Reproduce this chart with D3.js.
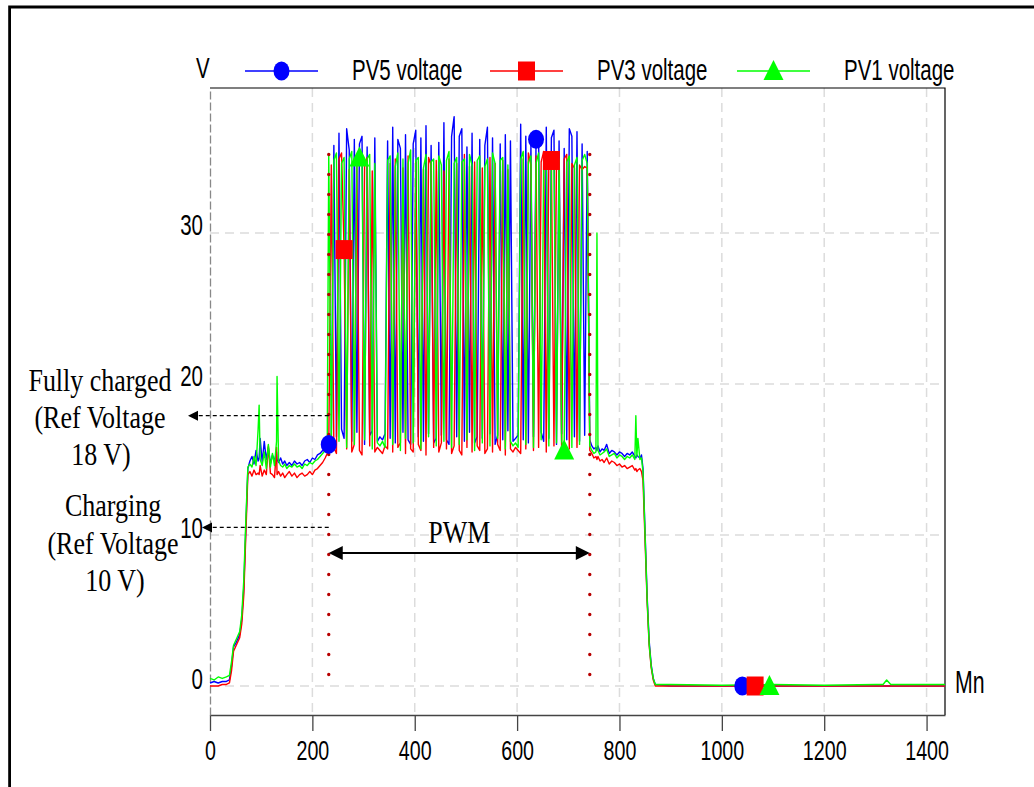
<!DOCTYPE html>
<html><head><meta charset="utf-8">
<script src="https://cdn.jsdelivr.net/npm/d3@7"></script>
<style>body{margin:0;background:#fff} svg{display:block}</style>
</head><body>
<svg id="chart" width="1034" height="787"></svg>
<script>
// ---------------- DATA ----------------
const xTicks = [0, 200, 400, 600, 800, 1000, 1200, 1400];
const yTicks = [0, 10, 20, 30];
const seriesNames = ["PV5 voltage", "PV3 voltage", "PV1 voltage"];

// sampling grid (minutes)
const preMinutes = [0, 8, 16, 24, 32, 38, 42, 46, 50, 54, 58, 62, 66, 70, 74, 78, 82, 86, 90, 94,
  96, 98, 102, 106, 110, 114, 118, 122, 126, 130, 131, 134, 138, 142, 146, 150, 155, 160, 165, 170,
  175, 180, 185, 190, 195, 200, 205, 210, 215, 220, 225, 229];
const pwmMinutes = d3.range(232, 743, 5);
const postMinutes = [746, 750, 754, 756, 758, 762, 766, 770, 775, 780, 785, 790, 795, 800, 805, 810, 815, 820, 825, 830,
  832, 834, 836, 840, 843, 846, 850, 854, 858, 862, 866, 870, 900, 1000, 1100, 1200, 1300, 1315, 1322, 1330,
  1400, 1436];

// PV5 (blue)
const pv5Pre = [0.2, 0.3, 0.2, 0.3, 0.3, 0.4, 1.3, 2.6, 2.8, 3.1, 3.4, 4.4, 6.5, 10.5, 14.4, 14.9, 15.2, 14.7, 15.6, 14.9,
  15.1, 16.4, 14.8, 16.2, 15.0, 15.8, 14.7, 15.3, 14.9, 15.5, 15.0, 14.8, 15.1, 14.7, 14.9, 14.6, 14.8, 14.6, 14.9, 14.7,
  14.8, 14.6, 14.9, 15.0, 14.8, 15.1, 15.0, 15.3, 15.4, 15.6, 15.8, 16.0];
const pv5Pwm = [16.0, 16.3, 35.8, 16.5, 36.6, 17.0, 16.4, 36.9, 35.5, 16.2,
  36.2, 16.8, 35.9, 36.4, 16.0, 35.7, 16.6, 16.9, 36.3, 16.2,
  16.5, 16.3, 16.7, 36.1, 16.4, 37.0, 16.1, 36.2, 35.6, 16.8,
  36.5, 16.3, 16.0, 35.9, 36.8, 16.5, 36.3, 16.2, 37.1, 16.7,
  35.8, 16.1, 16.4, 36.0, 16.6, 37.3, 16.3, 16.0, 36.4, 37.7,
  16.5, 36.4, 36.9, 16.2, 35.7, 16.8, 36.6, 16.1, 16.5, 36.2,
  16.4, 35.8, 37.0, 16.7, 36.3, 16.0, 16.6, 35.9, 16.3, 36.5,
  16.9, 36.1, 16.2, 16.4, 16.6, 37.2, 16.3, 36.4, 16.1, 35.8,
  16.5, 36.2, 36.6, 16.8, 16.2, 37.0, 16.4, 36.3, 36.8, 16.0,
  36.1, 16.7, 35.6, 16.3, 36.9, 36.4, 16.5, 36.7, 16.2, 35.9,
  16.6, 35.4, 16.3];
const pv5Post = [15.9, 15.7, 15.8, 15.6, 15.9, 15.5, 15.7, 15.6, 16.0, 15.4, 15.6, 15.5, 15.3, 15.5, 15.4, 15.2, 15.4, 15.3, 15.5, 15.2,
  15.1, 15.3, 15.2, 15.1, 15.3, 14.4, 10.2, 6.0, 3.0, 1.4, 0.5, 0.1, 0.0, 0.0, 0.0, 0.0, 0.0, 0.0, 0.0, 0.0,
  0.0, 0.0];

// PV3 (red)
const pv3Pre = [0.0, 0.0, 0.0, 0.1, 0.1, 0.2, 1.0, 2.3, 2.6, 2.9, 3.2, 4.1, 6.0, 10.0, 14.0, 14.2, 13.9, 14.3, 14.0, 14.1,
  14.0, 14.6, 13.9, 14.3, 14.0, 15.9, 14.1, 14.0, 13.8, 15.8, 14.0, 14.2, 13.9, 14.1, 13.8, 14.0, 14.2, 13.9, 14.1, 13.8,
  14.0, 14.1, 13.9, 14.0, 14.2, 14.0, 14.3, 14.4, 14.6, 14.8, 15.1, 15.4];
const pv3Pwm = [15.6, 34.5, 15.8, 15.4, 34.9, 35.3, 28.9, 15.7, 34.2, 15.5,
  16.0, 34.8, 15.6, 15.3, 34.4, 35.0, 15.9, 34.1, 15.5, 15.8,
  15.6, 15.4, 15.9, 15.7, 34.6, 15.5, 34.9, 15.8, 16.1, 34.3,
  15.4, 35.1, 15.7, 15.5, 34.7, 16.0, 15.6, 34.2, 15.3, 35.0,
  34.5, 15.8, 34.8, 15.5, 16.1, 34.1, 15.7, 34.9, 15.4, 15.9,
  34.6, 15.6, 15.3, 35.2, 15.8, 34.4, 15.5, 34.7, 15.9, 15.6,
  34.3, 15.4, 15.7, 35.0, 15.5, 34.6, 16.0, 15.6, 34.8, 15.3,
  34.2, 15.7, 15.5, 15.8, 15.6, 15.4, 34.9, 15.7, 35.3, 34.5,
  15.6, 35.1, 15.8, 34.7, 35.4, 15.5, 34.8, 34.8, 15.9, 35.0,
  34.4, 15.6, 34.9, 35.2, 15.7, 34.6, 34.3, 15.8, 34.5, 34.2,
  34.4, 34.3, 15.6];
const pv3Post = [15.4, 15.1, 15.2, 15.0, 15.2, 14.9, 15.0, 14.8, 15.1, 14.7, 14.9, 14.8, 14.6, 14.7, 14.5, 14.6, 14.4, 14.5, 14.6, 14.3,
  14.4, 14.2, 14.3, 14.4, 14.2, 13.6, 9.6, 5.6, 2.7, 1.2, 0.4, 0.0, 0.0, 0.0, 0.0, 0.0, 0.0, 0.0, 0.0, 0.0,
  0.0, 0.0];

// PV1 (green)
const pv1Pre = [0.5, 0.4, 0.6, 0.5, 0.6, 0.7, 1.6, 2.7, 3.0, 3.3, 3.6, 4.7, 7.0, 11.0, 14.5, 14.7, 14.5, 15.2, 14.6, 17.0,
  18.6, 15.0, 14.6, 15.5, 14.4, 16.0, 14.5, 15.4, 14.6, 16.2, 20.5, 14.9, 14.6, 14.5, 14.7, 14.4, 14.6, 14.5, 14.7, 14.5,
  14.6, 14.4, 14.7, 14.6, 14.8, 14.7, 14.9, 15.0, 15.2, 15.4, 15.6, 15.8];
const pv1Pwm = [35.2, 15.9, 34.8, 35.3, 16.2, 34.6, 35.0, 15.8, 34.9, 35.4,
  16.0, 34.7, 35.0, 34.5, 16.3, 34.9, 35.2, 15.7, 34.6, 16.1,
  15.9, 16.2, 15.8, 34.8, 35.1, 16.0, 34.4, 35.3, 15.6, 34.9,
  16.4, 34.6, 35.5, 16.1, 34.8, 35.0, 15.7, 34.3, 35.2, 16.5,
  34.7, 34.9, 15.9, 35.1, 34.5, 16.2, 34.8, 35.4, 15.8, 34.6,
  35.0, 16.0, 34.7, 34.9, 16.3, 35.2, 34.5, 15.6, 34.8, 35.1,
  16.1, 34.4, 34.9, 15.9, 35.3, 34.6, 16.4, 34.8, 35.0, 15.7,
  34.5, 16.2, 15.9, 16.1, 15.8, 34.9, 35.4, 16.0, 34.7, 35.1,
  15.8, 34.6, 35.3, 16.3, 34.8, 35.0, 15.9, 34.4, 35.2, 16.1,
  34.9, 16.2, 15.6, 34.7, 35.1, 15.8, 34.5, 35.0, 16.0, 34.8,
  35.2, 34.6, 15.9];
const pv1Post = [15.6, 15.4, 15.5, 30.0, 15.6, 15.3, 15.4, 15.5, 15.7, 15.2, 15.3, 15.4, 15.1, 15.3, 15.2, 15.0, 15.2, 15.1, 15.3, 15.0,
  17.9, 15.2, 16.4, 15.0, 15.1, 14.2, 10.0, 5.8, 2.8, 1.3, 0.5, 0.1, 0.1, 0.05, 0.1, 0.05, 0.1, 0.1, 0.4, 0.1,
  0.1, 0.1];

// markers on the curves
const pv5MarkerMinutes = [232, 637, 1040], pv5MarkerValues = [16.0, 36.2, 0.0];
const pv3MarkerMinutes = [262, 667, 1065], pv3MarkerValues = [28.9, 34.8, 0.0];
const pv1MarkerMinutes = [292, 692, 1093], pv1MarkerValues = [35.0, 15.6, 0.0];

// annotations
const pwmBounds = [232, 742];
const pwmDotRange = [35.2, 0.7];
const fullyChargedRef = 17.9;
const chargingRef = 10.5;
const pwmArrowLevel = 8.8;

// ---------------- CHART ----------------
const minutes = preMinutes.concat(pwmMinutes, postMinutes);
const pv5 = pv5Pre.concat(pv5Pwm, pv5Post);
const pv3 = pv3Pre.concat(pv3Pwm, pv3Post);
const pv1 = pv1Pre.concat(pv1Pwm, pv1Post);

const colors = ["#0000ff", "#ff0000", "#00ff00"];
const SANS = "'Liberation Sans',Arial,sans-serif";
const SERIF = "'Liberation Serif','Times New Roman',serif";
const SY = 1.18;     // vertical stretch of all text
const NX = 0.82;     // horizontal squeeze of sans text (narrow look)

const svg = d3.select("#chart");
const L = 210, R = 945, T = 88, B = 715;
const x = d3.scaleLinear().domain([0, 1436]).range([L, R]);
const y = d3.scaleLinear().domain([-1.92, 39.6]).range([B, T]);

function txt(g, px, py, s, opt) {
  const serif = opt.family === SERIF;
  return g.append("text")
    .attr("transform", `translate(${px},${py}) scale(${serif ? 1 : NX},${SY})`)
    .attr("font-family", opt.family || SANS)
    .attr("font-size", opt.size || 25)
    .attr("text-anchor", opt.anchor || "start")
    .attr("fill", "#000")
    .text(s);
}

// outer border
svg.append("path").attr("d", "M9.6,787 V7 H1034").attr("fill", "none")
  .attr("stroke", "#000").attr("stroke-width", 2.8);

// grid
const grid = svg.append("g");
grid.selectAll("line.v").data(xTicks.filter(d => d > 0)).join("line")
  .attr("x1", d => x(d)).attr("x2", d => x(d)).attr("y1", T).attr("y2", B)
  .attr("stroke", "#dcdcdc").attr("stroke-width", 1.5).attr("stroke-dasharray", "9,6");
grid.selectAll("line.h").data(yTicks).join("line")
  .attr("x1", L).attr("x2", R).attr("y1", d => y(d)).attr("y2", d => y(d))
  .attr("stroke", "#dcdcdc").attr("stroke-width", 1.5).attr("stroke-dasharray", "9,6");

// frame top/right
svg.append("path").attr("d", `M${L},${T} H${R} V${B}`).attr("fill", "none")
  .attr("stroke", "#000").attr("stroke-width", 1.2);

// x axis
const xAxis = svg.append("g").attr("transform", `translate(0,${B})`)
  .call(d3.axisBottom(x).tickValues(xTicks).tickSize(16).tickSizeOuter(0).tickFormat(d3.format("d")));
xAxis.select(".domain").attr("stroke", "#444").attr("stroke-width", 1.3);
xAxis.selectAll(".tick line").attr("stroke", "#444").attr("stroke-width", 1.3);
xAxis.selectAll(".tick text").attr("y", 45 / SY).attr("dy", 0)
  .attr("transform", `scale(${NX},${SY})`).attr("font-family", SANS).attr("font-size", 24).attr("fill", "#000");

// y axis
const yAxis = svg.append("g").attr("transform", `translate(${L},0)`)
  .call(d3.axisLeft(y).tickValues(yTicks).tickSize(0).tickSizeOuter(0).tickFormat(d3.format("d")));
yAxis.select(".domain").attr("stroke", "#888").attr("stroke-width", 1.3).attr("stroke-dasharray", "8,3");
yAxis.selectAll(".tick text").attr("x", -7 / NX).attr("y", 2 / SY).attr("dy", 0)
  .attr("transform", `scale(${NX},${SY})`).attr("font-family", SANS).attr("font-size", 25).attr("fill", "#000");

// series lines
const line = d3.line().x((d, i) => x(minutes[i])).y(d => y(d));
[pv5, pv3, pv1].forEach((s, k) => {
  svg.append("path").datum(s).attr("d", line).attr("fill", "none")
    .attr("stroke", colors[k]).attr("stroke-width", 1.4).attr("stroke-linejoin", "round");
});

// dotted PWM boundaries
svg.selectAll("line.pwm").data(pwmBounds).join("line")
  .attr("x1", d => x(d)).attr("x2", d => x(d))
  .attr("y1", y(pwmDotRange[0])).attr("y2", y(pwmDotRange[1]) + 1)
  .attr("stroke", "#b80000").attr("stroke-width", 3.4)
  .attr("stroke-linecap", "round").attr("stroke-dasharray", "0,20");

// marker shapes
function drawMarker(g, k, cx, cy) {
  if (k === 0) g.append("ellipse").attr("cx", cx).attr("cy", cy).attr("rx", 8).attr("ry", 9.5).attr("fill", colors[0]);
  else if (k === 1) g.append("rect").attr("x", cx - 8.5).attr("y", cy - 9.5).attr("width", 17).attr("height", 19).attr("fill", colors[1]);
  else g.append("path").attr("d", `M${cx},${cy - 11} L${cx + 10},${cy + 9} L${cx - 10},${cy + 9} Z`).attr("fill", colors[2]);
}
const mg = svg.append("g");
[[pv5MarkerMinutes, pv5MarkerValues], [pv3MarkerMinutes, pv3MarkerValues], [pv1MarkerMinutes, pv1MarkerValues]]
  .forEach(([ms, vs], k) => ms.forEach((m, i) => drawMarker(mg, k, x(m), y(vs[i]))));

// legend
const lg = svg.append("g");
txt(lg, 196, 78, "V", { size: 25 });
const legendX = [245, 490, 737];
seriesNames.forEach((n, k) => {
  const lx = legendX[k];
  lg.append("line").attr("x1", lx).attr("x2", lx + 73).attr("y1", 71).attr("y2", 71)
    .attr("stroke", colors[k]).attr("stroke-width", 1.3);
  drawMarker(lg, k, lx + 36.5, 71);
  txt(lg, lx + 107, 80, n, { size: 25 });
});
txt(lg, 955, 693, "Mn", { size: 26 });

// annotations
const an = svg.append("g");
function leftArrow(yv, tip) {
  const py = y(yv);
  an.append("line").attr("x1", x(pwmBounds[0])).attr("x2", tip + 8).attr("y1", py).attr("y2", py)
    .attr("stroke", "#000").attr("stroke-width", 1.2).attr("stroke-dasharray", "4,3");
  an.append("path").attr("d", `M${tip},${py} L${tip + 10},${py - 5} L${tip + 10},${py + 5} Z`).attr("fill", "#000");
}
leftArrow(fullyChargedRef, 188);
leftArrow(chargingRef, 202);

txt(an, 100, 391, "Fully charged", { family: SERIF, size: 26, anchor: "middle" });
txt(an, 100, 428, "(Ref Voltage", { family: SERIF, size: 26, anchor: "middle" });
txt(an, 101, 465, "18 V)", { family: SERIF, size: 26, anchor: "middle" });
txt(an, 113, 516, "Charging", { family: SERIF, size: 26, anchor: "middle" });
txt(an, 113, 554, "(Ref Voltage", { family: SERIF, size: 26, anchor: "middle" });
txt(an, 115, 591, "10 V)", { family: SERIF, size: 26, anchor: "middle" });

// PWM double arrow
const ay = y(pwmArrowLevel), ax1 = x(pwmBounds[0]), ax2 = x(pwmBounds[1]);
an.append("line").attr("x1", ax1 + 10).attr("x2", ax2 - 10).attr("y1", ay).attr("y2", ay)
  .attr("stroke", "#000").attr("stroke-width", 2);
an.append("path").attr("d", `M${ax1},${ay} L${ax1 + 14},${ay - 7} L${ax1 + 14},${ay + 7} Z`).attr("fill", "#000");
an.append("path").attr("d", `M${ax2},${ay} L${ax2 - 14},${ay - 7} L${ax2 - 14},${ay + 7} Z`).attr("fill", "#000");
txt(an, (ax1 + ax2) / 2, 543, "PWM", { family: SERIF, size: 26, anchor: "middle" });
</script>
</body></html>
